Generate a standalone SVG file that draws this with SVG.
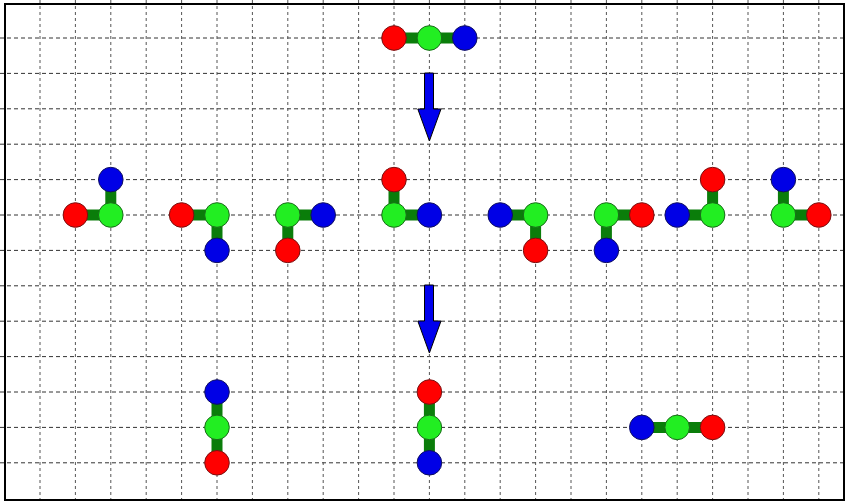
<svg xmlns="http://www.w3.org/2000/svg" width="846" height="502" viewBox="0 0 846 502">
<style>
.grid line{stroke:#333;stroke-width:1;stroke-dasharray:4 3}
.grid .v{stroke:#555;stroke-dasharray:3 3}
.bond{stroke:#0a7d0a;stroke-width:11;fill:none}
.r{fill:#ff0000;stroke:#7a1010;stroke-width:1}
.g{fill:#22ee22;stroke:#1a6a1a;stroke-width:1}
.b{fill:#0000e6;stroke:#101060;stroke-width:1}
.arrow{fill:#0000ee;stroke:#000;stroke-width:1}
</style>
<rect x="0" y="0" width="846" height="502" fill="#fff"/>
<g class="grid">
<line x1="0" y1="38" x2="846" y2="38"/>
<line x1="0" y1="73.4" x2="846" y2="73.4"/>
<line x1="0" y1="108.8" x2="846" y2="108.8"/>
<line x1="0" y1="144.2" x2="846" y2="144.2"/>
<line x1="0" y1="179.6" x2="846" y2="179.6"/>
<line x1="0" y1="215" x2="846" y2="215"/>
<line x1="0" y1="250.4" x2="846" y2="250.4"/>
<line x1="0" y1="285.8" x2="846" y2="285.8"/>
<line x1="0" y1="321.2" x2="846" y2="321.2"/>
<line x1="0" y1="356.6" x2="846" y2="356.6"/>
<line x1="0" y1="392" x2="846" y2="392"/>
<line x1="0" y1="427.4" x2="846" y2="427.4"/>
<line x1="0" y1="462.8" x2="846" y2="462.8"/>
<line class="v" x1="40" y1="0" x2="40" y2="502"/>
<line class="v" x1="75.4" y1="0" x2="75.4" y2="502"/>
<line class="v" x1="110.8" y1="0" x2="110.8" y2="502"/>
<line class="v" x1="146.2" y1="0" x2="146.2" y2="502"/>
<line class="v" x1="181.6" y1="0" x2="181.6" y2="502"/>
<line class="v" x1="217" y1="0" x2="217" y2="502"/>
<line class="v" x1="252.4" y1="0" x2="252.4" y2="502"/>
<line class="v" x1="287.8" y1="0" x2="287.8" y2="502"/>
<line class="v" x1="323.2" y1="0" x2="323.2" y2="502"/>
<line class="v" x1="358.6" y1="0" x2="358.6" y2="502"/>
<line class="v" x1="394" y1="0" x2="394" y2="502"/>
<line class="v" x1="429.4" y1="0" x2="429.4" y2="502"/>
<line class="v" x1="464.8" y1="0" x2="464.8" y2="502"/>
<line class="v" x1="500.2" y1="0" x2="500.2" y2="502"/>
<line class="v" x1="535.6" y1="0" x2="535.6" y2="502"/>
<line class="v" x1="571" y1="0" x2="571" y2="502"/>
<line class="v" x1="606.4" y1="0" x2="606.4" y2="502"/>
<line class="v" x1="641.8" y1="0" x2="641.8" y2="502"/>
<line class="v" x1="677.2" y1="0" x2="677.2" y2="502"/>
<line class="v" x1="712.6" y1="0" x2="712.6" y2="502"/>
<line class="v" x1="748" y1="0" x2="748" y2="502"/>
<line class="v" x1="783.4" y1="0" x2="783.4" y2="502"/>
<line class="v" x1="818.8" y1="0" x2="818.8" y2="502"/>
</g>
<rect x="5" y="4" width="839" height="496" fill="none" stroke="#000" stroke-width="2"/>

<g id="connectors">
<path class="arrow" d="M424.5,73 H433.5 V109 H441 L429.4,141 L417.8,109 H424.5 Z"/>
<path class="arrow" d="M424.5,285 H433.5 V321 H441 L429.4,353 L417.8,321 H424.5 Z"/>
</g>

<g id="mol-top">
<path class="bond" d="M394,38 H464.8"/>
<circle class="r" cx="394" cy="38" r="12.3"/>
<circle class="g" cx="429.4" cy="38" r="12.3"/>
<circle class="b" cx="464.8" cy="38" r="12.3"/>
</g>

<g id="mol-m1">
<path class="bond" d="M75.4,215 H110.8 V179.6"/>
<circle class="r" cx="75.4" cy="215" r="12.3"/>
<circle class="g" cx="110.8" cy="215" r="12.3"/>
<circle class="b" cx="110.8" cy="179.6" r="12.3"/>
</g>
<g id="mol-m2">
<path class="bond" d="M181.6,215 H217 V250.4"/>
<circle class="r" cx="181.6" cy="215" r="12.3"/>
<circle class="g" cx="217" cy="215" r="12.3"/>
<circle class="b" cx="217" cy="250.4" r="12.3"/>
</g>
<g id="mol-m3">
<path class="bond" d="M323.2,215 H287.8 V250.4"/>
<circle class="g" cx="287.8" cy="215" r="12.3"/>
<circle class="b" cx="323.2" cy="215" r="12.3"/>
<circle class="r" cx="287.8" cy="250.4" r="12.3"/>
</g>
<g id="mol-m4">
<path class="bond" d="M394,179.6 V215 H429.4"/>
<circle class="r" cx="394" cy="179.6" r="12.3"/>
<circle class="g" cx="394" cy="215" r="12.3"/>
<circle class="b" cx="429.4" cy="215" r="12.3"/>
</g>
<g id="mol-m5">
<path class="bond" d="M500.2,215 H535.6 V250.4"/>
<circle class="b" cx="500.2" cy="215" r="12.3"/>
<circle class="g" cx="535.6" cy="215" r="12.3"/>
<circle class="r" cx="535.6" cy="250.4" r="12.3"/>
</g>
<g id="mol-m6">
<path class="bond" d="M641.8,215 H606.4 V250.4"/>
<circle class="g" cx="606.4" cy="215" r="12.3"/>
<circle class="r" cx="641.8" cy="215" r="12.3"/>
<circle class="b" cx="606.4" cy="250.4" r="12.3"/>
</g>
<g id="mol-m7">
<path class="bond" d="M677.2,215 H712.6 V179.6"/>
<circle class="b" cx="677.2" cy="215" r="12.3"/>
<circle class="g" cx="712.6" cy="215" r="12.3"/>
<circle class="r" cx="712.6" cy="179.6" r="12.3"/>
</g>
<g id="mol-m8">
<path class="bond" d="M783.4,179.6 V215 H818.8"/>
<circle class="b" cx="783.4" cy="179.6" r="12.3"/>
<circle class="g" cx="783.4" cy="215" r="12.3"/>
<circle class="r" cx="818.8" cy="215" r="12.3"/>
</g>

<g id="mol-b1">
<path class="bond" d="M217,392 V462.8"/>
<circle class="b" cx="217" cy="392" r="12.3"/>
<circle class="g" cx="217" cy="427.4" r="12.3"/>
<circle class="r" cx="217" cy="462.8" r="12.3"/>
</g>
<g id="mol-b2">
<path class="bond" d="M429.4,392 V462.8"/>
<circle class="r" cx="429.4" cy="392" r="12.3"/>
<circle class="g" cx="429.4" cy="427.4" r="12.3"/>
<circle class="b" cx="429.4" cy="462.8" r="12.3"/>
</g>
<g id="mol-b3">
<path class="bond" d="M641.8,427.4 H712.6"/>
<circle class="b" cx="641.8" cy="427.4" r="12.3"/>
<circle class="g" cx="677.2" cy="427.4" r="12.3"/>
<circle class="r" cx="712.6" cy="427.4" r="12.3"/>
</g>
</svg>
